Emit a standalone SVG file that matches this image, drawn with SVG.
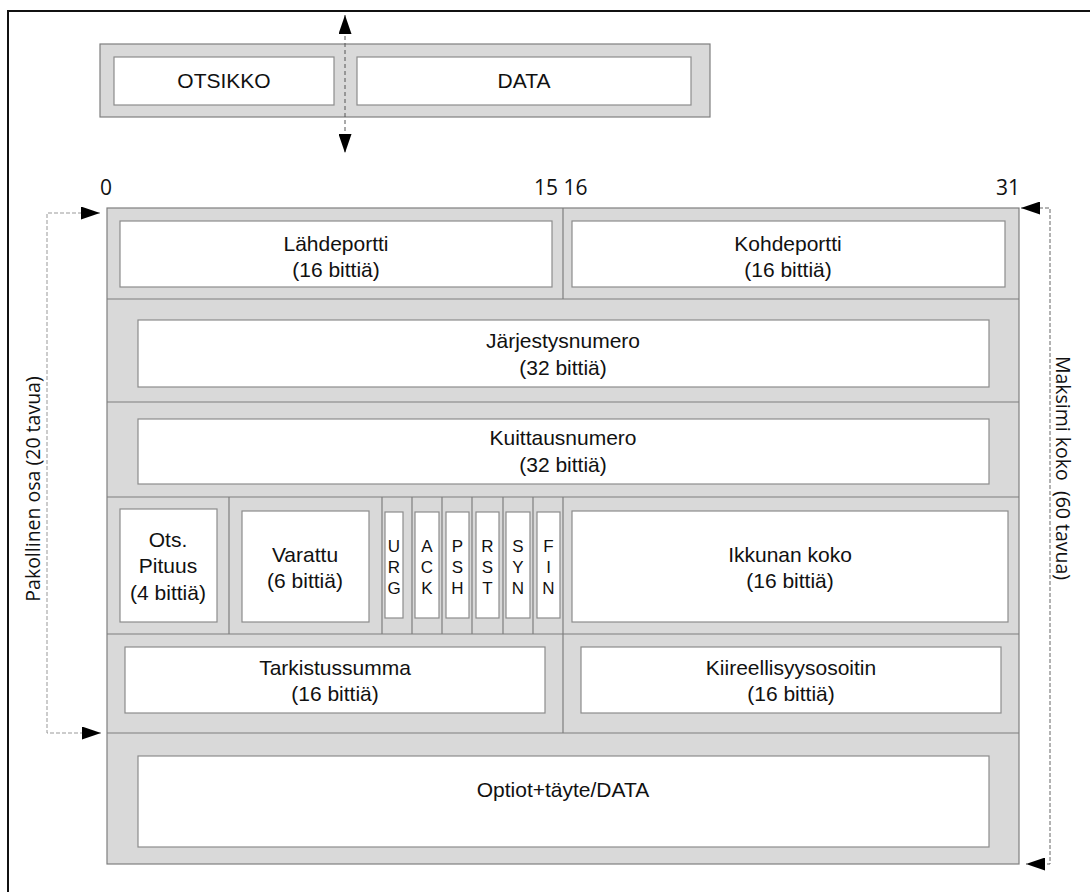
<svg xmlns="http://www.w3.org/2000/svg" width="1090" height="892" viewBox="0 0 1090 892">
  <style>
    .band { fill: #d9d9d9; stroke: #7f7f7f; stroke-width: 1.2; }
    .grid { stroke: #7f7f7f; stroke-width: 1.2; fill: none; }
    .field { fill: #ffffff; stroke: #8c8c8c; stroke-width: 1.2; }
    .lbl { font-family: "Liberation Sans", Arial, sans-serif; font-size: 21px; fill: #111; text-anchor: middle; }
    .flag { font-family: "Liberation Sans", Arial, sans-serif; font-size: 17px; fill: #111; text-anchor: middle; }
    .num { font-family: "Open Sans", "DejaVu Sans", sans-serif; font-size: 21px; fill: #111; }
    .side { font-family: "Open Sans", "DejaVu Sans", sans-serif; font-size: 19.5px; fill: #111; text-anchor: middle; }
    .dash-dark { fill: none; stroke: #555; stroke-width: 1; stroke-dasharray: 4 3; }
    .dash-light { fill: none; stroke: #999; stroke-width: 1; stroke-dasharray: 4 2; }
    .dash-mid { fill: none; stroke: #666; stroke-width: 1; stroke-dasharray: 4 2; }
  </style>
  <defs>
    <marker id="head" markerUnits="userSpaceOnUse" viewBox="0 0 19 13" markerWidth="19" markerHeight="13" refX="19" refY="6.5" orient="auto-start-reverse">
      <path d="M0,0 L19,6.5 L0,13 z" fill="#000"/>
    </marker>
  </defs>

  <rect width="1090" height="892" fill="#ffffff"/>
  <!-- outer frame -->
  <path d="M8,892 V11 H1090" fill="none" stroke="#111" stroke-width="2"/>

  <!-- segment overview: header + data -->
  <g id="segment">
    <rect class="band" x="100" y="44" width="610" height="73"/>
    <g id="otsikko">
      <rect class="field" x="114" y="57" width="220" height="48"/>
      <text class="lbl" x="224" y="88">OTSIKKO</text>
    </g>
    <g id="data">
      <rect class="field" x="357" y="57" width="334" height="48"/>
      <text class="lbl" x="524" y="88">DATA</text>
    </g>
  </g>

  <!-- bit numbering -->
  <g id="bit-scale">
    <text class="num" x="100" y="195">0</text>
    <text class="num" x="534" y="195">15 16</text>
    <text class="num" x="1020" y="195" text-anchor="end">31</text>
  </g>

  <!-- header grid -->
  <g id="header-grid">
    <rect class="band" x="107" y="208" width="912" height="656"/>
    <path class="grid" d="M107,299 H1019 M107,402 H1019 M107,497 H1019 M107,634 H1019 M107,733 H1019"/>
    <path class="grid" d="M563,208 V299 M229,497 V634 M382,497 V634 M412,497 V634 M442,497 V634 M472,497 V634 M503,497 V634 M533,497 V634 M563,497 V634 M563,634 V733"/>
  </g>

  <g id="lahdeportti">
    <rect class="field" x="120" y="221" width="432" height="66"/>
    <text class="lbl" x="336" y="251">Lähdeportti</text>
    <text class="lbl" x="336" y="277">(16 bittiä)</text>
  </g>
  <g id="kohdeportti">
    <rect class="field" x="572" y="221" width="433" height="66"/>
    <text class="lbl" x="788" y="251">Kohdeportti</text>
    <text class="lbl" x="788" y="277">(16 bittiä)</text>
  </g>

  <g id="jarjestysnumero">
    <rect class="field" x="138" y="320" width="851" height="67"/>
    <text class="lbl" x="563" y="348">Järjestysnumero</text>
    <text class="lbl" x="563" y="375">(32 bittiä)</text>
  </g>

  <g id="kuittausnumero">
    <rect class="field" x="138" y="419" width="851" height="65"/>
    <text class="lbl" x="563" y="445">Kuittausnumero</text>
    <text class="lbl" x="563" y="472">(32 bittiä)</text>
  </g>

  <g id="ots-pituus">
    <rect class="field" x="120" y="509" width="97" height="113"/>
    <text class="lbl" x="168" y="547">Ots.</text>
    <text class="lbl" x="168" y="573">Pituus</text>
    <text class="lbl" x="168" y="600">(4 bittiä)</text>
  </g>
  <g id="varattu">
    <rect class="field" x="242" y="511" width="127" height="111"/>
    <text class="lbl" x="305" y="562">Varattu</text>
    <text class="lbl" x="305" y="588">(6 bittiä)</text>
  </g>

  <g id="flag-urg">
    <rect class="field" x="385" y="512" width="18" height="106"/>
    <text class="flag" x="394" y="552">U</text>
    <text class="flag" x="394" y="573">R</text>
    <text class="flag" x="394" y="594">G</text>
  </g>
  <g id="flag-ack">
    <rect class="field" x="415" y="512" width="24" height="106"/>
    <text class="flag" x="427" y="552">A</text>
    <text class="flag" x="427" y="573">C</text>
    <text class="flag" x="427" y="594">K</text>
  </g>
  <g id="flag-psh">
    <rect class="field" x="446" y="512" width="23" height="106"/>
    <text class="flag" x="457.5" y="552">P</text>
    <text class="flag" x="457.5" y="573">S</text>
    <text class="flag" x="457.5" y="594">H</text>
  </g>
  <g id="flag-rst">
    <rect class="field" x="476" y="512" width="23" height="106"/>
    <text class="flag" x="487.5" y="552">R</text>
    <text class="flag" x="487.5" y="573">S</text>
    <text class="flag" x="487.5" y="594">T</text>
  </g>
  <g id="flag-syn">
    <rect class="field" x="506" y="512" width="24" height="106"/>
    <text class="flag" x="518" y="552">S</text>
    <text class="flag" x="518" y="573">Y</text>
    <text class="flag" x="518" y="594">N</text>
  </g>
  <g id="flag-fin">
    <rect class="field" x="537" y="512" width="23" height="106"/>
    <text class="flag" x="548.5" y="552">F</text>
    <text class="flag" x="548.5" y="573">I</text>
    <text class="flag" x="548.5" y="594">N</text>
  </g>

  <g id="ikkunan-koko">
    <rect class="field" x="572" y="511" width="436" height="111"/>
    <text class="lbl" x="790" y="562">Ikkunan koko</text>
    <text class="lbl" x="790" y="588">(16 bittiä)</text>
  </g>

  <g id="tarkistussumma">
    <rect class="field" x="125" y="647" width="420" height="66"/>
    <text class="lbl" x="335" y="675">Tarkistussumma</text>
    <text class="lbl" x="335" y="701">(16 bittiä)</text>
  </g>
  <g id="kiireellisyysosoitin">
    <rect class="field" x="581" y="647" width="420" height="66"/>
    <text class="lbl" x="791" y="675">Kiireellisyysosoitin</text>
    <text class="lbl" x="791" y="701">(16 bittiä)</text>
  </g>

  <g id="optiot">
    <rect class="field" x="138" y="756" width="851" height="91"/>
    <text class="lbl" x="563" y="797">Optiot+täyte/DATA</text>
  </g>

  <!-- size annotations -->
  <g id="side-labels">
    <text class="side" transform="translate(40,489) rotate(-90)">Pakollinen osa (20 tavua)</text>
    <text class="side" transform="translate(1056,468) rotate(90)" xml:space="preserve">Maksimi koko  (60 tavua)</text>
  </g>

  <g id="connectors">
    <path class="dash-dark" d="M345,15 V153" marker-start="url(#head)" marker-end="url(#head)"/>
    <path class="dash-light" d="M100,213 H47 V733 H101" marker-start="url(#head)" marker-end="url(#head)"/>
    <path class="dash-mid" d="M1021,208 H1050 V864 H1026" marker-start="url(#head)" marker-end="url(#head)"/>
  </g>
</svg>
